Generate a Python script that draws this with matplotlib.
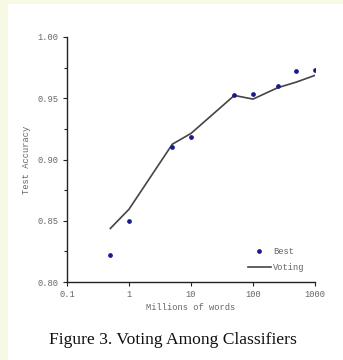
import matplotlib
matplotlib.use('Agg')
import matplotlib.pyplot as plt
from matplotlib.patches import Rectangle
from matplotlib.ticker import FixedLocator, FixedFormatter

# data
words = [0.5, 1, 5, 10, 50, 100, 250, 500, 1000]
best = [0.822, 0.850, 0.910, 0.9185, 0.9525, 0.9537, 0.960, 0.972, 0.973]
voting = [0.8437, 0.8594, 0.9125, 0.9213, 0.9523, 0.9493, 0.9586, 0.9632, 0.9687]

x_ticks = [0.1, 1, 10, 100, 1000]
x_tick_labels = ['0.1', '1', '10', '100', '1000']
y_ticks = [0.80, 0.85, 0.90, 0.95, 1.00]
y_tick_labels = ['0.80', '0.85', '0.90', '0.95', '1.00']

text_color = '#666666'
mono = 'Liberation Mono'
fs = 6.3

fig = plt.figure(figsize=(3.43, 3.60), dpi=100)
fig.patch.set_facecolor('#f8f9e4')
fig.patches.append(Rectangle((8 / 343, 0), 1, 356 / 360, transform=fig.transFigure,
                             facecolor='white', edgecolor='none', zorder=-5))

ax = fig.add_axes([67 / 343, 78 / 360, 248 / 343, 245 / 360])
ax.set_facecolor('none')

ax.plot(words, best, 'o', color='#1a1a8c', ms=2.4, label='Best', zorder=3)
ax.plot(words, voting, color='#444444', lw=1.2, label='Voting', zorder=2)

ax.set_xscale('log')
ax.set_xlim(0.1, 1000)
ax.set_ylim(0.80, 1.00)
ax.xaxis.set_major_locator(FixedLocator(x_ticks))
ax.xaxis.set_major_formatter(FixedFormatter(x_tick_labels))
ax.xaxis.set_minor_locator(FixedLocator([]))
ax.set_yticks(y_ticks)
ax.set_yticklabels(y_tick_labels)
ax.set_yticks([0.825, 0.875, 0.925, 0.975], minor=True)

for s in ['top', 'right']:
    ax.spines[s].set_visible(False)
for s in ['left', 'bottom']:
    ax.spines[s].set_color('#222222')
    ax.spines[s].set_linewidth(1.0)

ax.tick_params(axis='both', which='major', length=3, width=0.8, color='#222222',
               labelsize=fs, labelcolor=text_color, pad=3)
ax.tick_params(axis='y', which='minor', length=2, width=0.8, color='#222222')
for lab in ax.get_xticklabels() + ax.get_yticklabels():
    lab.set_family(mono)

ax.set_xlabel('Millions of words', fontsize=fs, color=text_color, family=mono, labelpad=3)
ax.set_ylabel('Test Accuracy', fontsize=fs, color=text_color, family=mono, labelpad=5)

ax.legend(loc='lower right', bbox_to_anchor=(0.99, 0.01),
          frameon=False, prop={'family': mono, 'size': fs}, labelcolor=text_color,
          handlelength=2.6, handletextpad=0.3, labelspacing=0.75)

fig.text(0.505, 0.055, 'Figure 3. Voting Among Classifiers', ha='center', va='center',
         fontsize=12.6, family='Liberation Serif', color='#111111')

fig.savefig('out.png', dpi=100, facecolor=fig.get_facecolor())
